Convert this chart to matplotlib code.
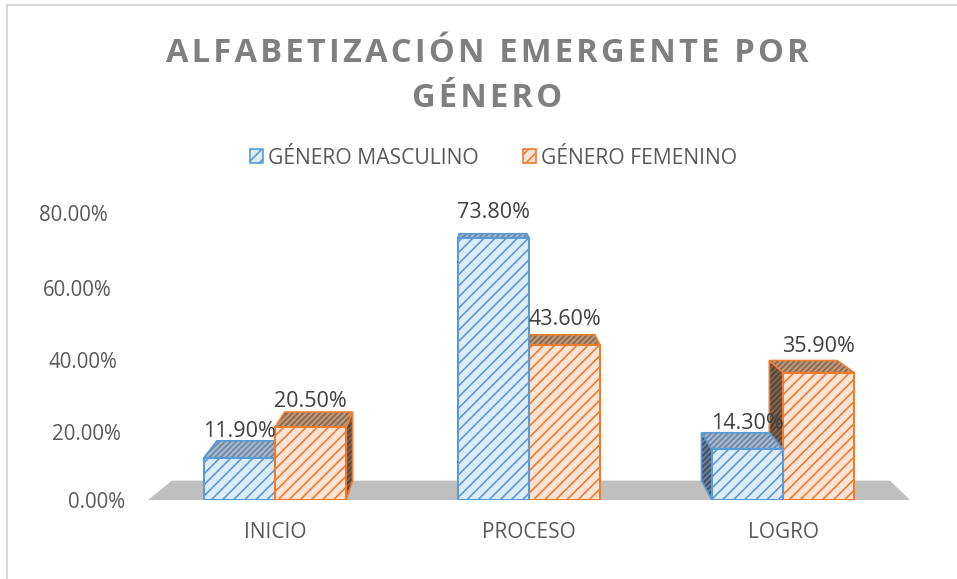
import matplotlib
matplotlib.use("Agg")
import matplotlib.pyplot as plt
from matplotlib.patches import Polygon, Patch
from matplotlib.transforms import ScaledTranslation
import numpy as np

categories = ["INICIO", "PROCESO", "LOGRO"]
series_names = ["GÉNERO MASCULINO", "GÉNERO FEMENINO"]
masculino = [0.119, 0.738, 0.143]
femenino = [0.205, 0.436, 0.359]
y_ticks = [0.0, 0.2, 0.4, 0.6, 0.8]
y_tick_labels = ["0.00%", "20.00%", "40.00%", "60.00%", "80.00%"]
title = "ALFABETIZACIÓN EMERGENTE POR\nGÉNERO"

FONT = ["Open Sans", "DejaVu Sans"]
plt.rcParams["font.family"] = FONT
plt.rcParams["hatch.linewidth"] = 1.2

W, H, DPI = 957, 579, 100
fig = plt.figure(figsize=(W / DPI, H / DPI), dpi=DPI)
fig.patch.set_facecolor("white")

# outer frame (top + left visible)
fig.add_artist(plt.Line2D([7.5 / W, 7.5 / W], [0, 1 - 4.5 / H], transform=fig.transFigure,
                          color="#D9D9D9", lw=1.5))
fig.add_artist(plt.Line2D([7.5 / W, 1], [1 - 4.5 / H, 1 - 4.5 / H], transform=fig.transFigure,
                          color="#D9D9D9", lw=1.5))

# axes: x data -0.5..2.5 -> px 148..910, y 0 -> px 500, 1 unit = 355 px
ax_left, ax_right = 148, 910
y0_px = 500
unit = 355.0
ytop = 0.9
ax = fig.add_axes([ax_left / W, (H - y0_px) / H, (ax_right - ax_left) / W, ytop * unit / H])
ax.set_xlim(-0.5, 2.5)
ax.set_ylim(0, ytop)
for s in ax.spines.values():
    s.set_visible(False)
ax.set_facecolor("none")

# perspective settings (data coords)
bar_vx, bar_kx = 0.83, 0.046
bar_vy, bar_ky = 0.949, 0.0575
floor_vx, floor_k = 1.135, 0.0575


def back(x, y, vx, kx, vy, ky):
    return x + kx * (vx - x), y + ky * (vy - y)


# floor
fx0, fx1 = ax.get_xlim()
bl = back(fx0, 0, floor_vx, floor_k, bar_vy, bar_ky)
br = back(fx1, 0, floor_vx, floor_k, bar_vy, bar_ky)
ax.add_patch(Polygon([(fx0, 0), (fx1, 0), br, bl], closed=True, facecolor="#BFBFBF",
                     edgecolor="none", zorder=1, clip_on=False))

width = 0.28
x = np.arange(len(categories))
styles = [
    dict(front="#DDEBF7", edge="#5B9BD5", top="#A7B8C9", tophatch="#6A86A6", side="#4A535E"),
    dict(front="#FBE4D5", edge="#ED7D31", top="#B99A80", tophatch="#8F6446", side="#514A45"),
]
series = [masculino, femenino]

bars = []
for si, vals in enumerate(series):
    offs = (si - 0.5) * width
    for ci, v in enumerate(vals):
        bars.append((abs(x[ci] + offs - bar_vx), si, ci, x[ci] + offs, v))

bars.sort(key=lambda b: -b[0])
z = 2
for _, si, ci, xc, v in bars:
    st = styles[si]
    x0, x1 = xc - width / 2, xc + width / 2
    # side face
    if bar_vx > x1:
        ex = x1
    elif bar_vx < x0:
        ex = x0
    else:
        ex = None
    if ex is not None:
        pts = [(ex, 0), (ex, v), back(ex, v, bar_vx, bar_kx, bar_vy, bar_ky),
               back(ex, 0, bar_vx, bar_kx, bar_vy, bar_ky)]
        ax.add_patch(Polygon(pts, closed=True, facecolor=st["side"], edgecolor=st["tophatch"],
                             lw=0, hatch="//////", zorder=z, clip_on=False))
        ax.add_patch(Polygon(pts, closed=True, facecolor="none", edgecolor=st["edge"],
                             lw=1.2, zorder=z + 0.1, clip_on=False))
    # top face
    pts = [(x0, v), (x1, v), back(x1, v, bar_vx, bar_kx, bar_vy, bar_ky),
           back(x0, v, bar_vx, bar_kx, bar_vy, bar_ky)]
    ax.add_patch(Polygon(pts, closed=True, facecolor=st["top"], edgecolor=st["tophatch"],
                         lw=0, hatch="//////", zorder=z + 0.2, clip_on=False))
    ax.add_patch(Polygon(pts, closed=True, facecolor="none", edgecolor=st["edge"],
                         lw=1.2, zorder=z + 0.3, clip_on=False))
    # front face
    ax.bar(xc, v, width=width, color=st["front"], edgecolor=st["edge"], hatch="///",
           linewidth=1.5, zorder=z + 0.4)
    z += 1

# data labels
for si, vals in enumerate(series):
    offs = (si - 0.5) * width
    for ci, v in enumerate(vals):
        ax.annotate(f"{v * 100:.2f}%", (x[ci] + offs, v), xytext=(0, 11),
                    textcoords="offset points", ha="center", va="bottom",
                    fontsize=15.5, color="#404040", zorder=50)

# ticks
ax.set_xticks(x)
ax.set_xticklabels(categories, fontsize=15, color="#595959")
ax.set_yticks(y_ticks)
ax.set_yticklabels(y_tick_labels, fontsize=14.8, color="#595959")
ax.tick_params(axis="both", length=0)
ax.tick_params(axis="y", pad=16.5)
ax.tick_params(axis="x", pad=15.5)
y_shift_px = [(0, 0), (-4, -3), (-8, -2), (-13, -1), (-17, 3)]
for lab, (dxp, dyp) in zip(ax.get_yticklabels(), y_shift_px):
    lab.set_transform(lab.get_transform() + ScaledTranslation(dxp / DPI, dyp / DPI, fig.dpi_scale_trans))

# legend
handles = [Patch(facecolor=st["front"], edgecolor=st["edge"], hatch="///", lw=1.2) for st in styles]
fig.legend(handles, series_names, loc="center", bbox_to_anchor=(494 / W, 1 - 158 / H), ncol=2,
           frameon=False, fontsize=15.2, handlelength=0.6, handleheight=0.6, handletextpad=0.25,
           columnspacing=2.1, labelcolor="#595959")

# title with letter spacing
def spaced(s):
    return "\n".join("\u200a".join(list(line)) for line in s.split("\n"))

fig.text(487 / W, 1 - 76 / H, spaced(title), ha="center", va="center", fontsize=23.5,
         fontweight="bold", color="#7F7F7F", linespacing=1.5, family=FONT)

fig.savefig("out.png", dpi=DPI)
